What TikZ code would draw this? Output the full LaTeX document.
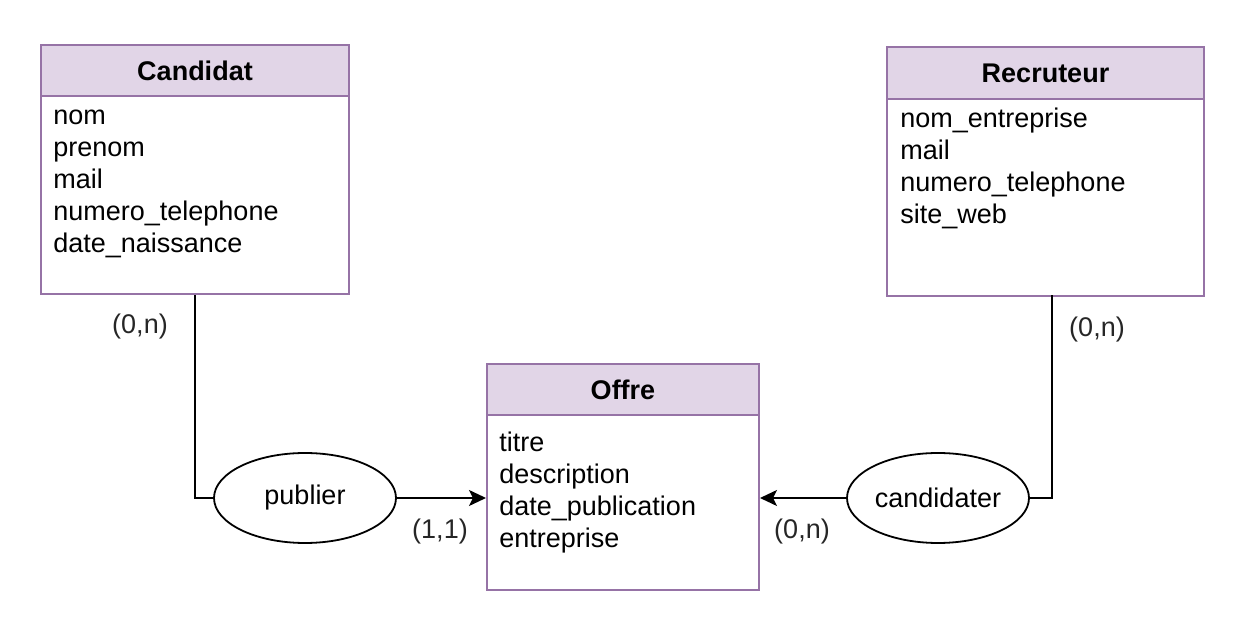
\documentclass[tikz,border=0pt]{standalone}
\usepackage{fontspec}
\setmainfont{Liberation Sans}
\usetikzlibrary{shapes.geometric,arrows.meta}
\definecolor{headfill}{HTML}{E1D5E7}
\definecolor{headdraw}{HTML}{9673A6}
\tikzset{
  entbody/.style={draw=headdraw, fill=white, line width=1pt, rectangle, inner sep=0pt, anchor=north west},
  enthead/.style={draw=headdraw, fill=headfill, line width=1pt, rectangle, inner sep=0pt, anchor=north west, font=\fontsize{13.5}{16}\selectfont\bfseries},
  attr/.style={inner sep=0pt, anchor=base west, font=\fontsize{13.5}{16}\selectfont},
  rel/.style={draw, ellipse, line width=0.9pt, minimum width=91pt, minimum height=45pt, inner sep=0pt, font=\fontsize{13.5}{16}\selectfont},
  card/.style={inner sep=0pt, font=\fontsize{13.5}{16}\selectfont, text=black!85},
  link/.style={line width=0.9pt},
  arr/.style={line width=0.9pt, -{Stealth[length=8.5pt,width=8pt,inset=2pt]}}
}
\begin{document}
\begin{tikzpicture}[x=0.5pt,y=-0.5pt]
\useasboundingbox (0,0) rectangle (1244,630);
% Candidat
\node[entbody, minimum width=154pt, minimum height=124.5pt] (cand) at (40,44) {};
\node[enthead, minimum width=154pt, minimum height=25.5pt] (candh) at (40,44) {Candidat};
\foreach \t [count=\i] in {nom,prenom,mail,numero\_telephone,date\_naissance}
  \node[attr] (ca\i) at (53,{125+32*(\i-1)}) {\t};
% Recruteur
\node[entbody, minimum width=158.5pt, minimum height=124.5pt] (rec) at (886,46) {};
\node[enthead, minimum width=158.5pt, minimum height=26pt] (rech) at (886,46) {Recruteur};
\foreach \t [count=\i] in {nom\_entreprise,mail,numero\_telephone,site\_web}
  \node[attr] (ra\i) at (900,{128+32*(\i-1)}) {\t};
% Offre
\node[entbody, minimum width=136pt, minimum height=113pt] (off) at (486,363) {};
\node[enthead, minimum width=136pt, minimum height=25.5pt] (offh) at (486,363) {Offre};
\foreach \t [count=\i] in {titre,description,date\_publication,entreprise}
  \node[attr] (oa\i) at (499,{452+32*(\i-1)}) {\t};
% relations
\node[rel] (pub) at (305,498) {publier};
\node[rel] (cdt) at (938,498) {candidater};
\coordinate (recs) at (1052,295);
\draw[link] (pub.west) -| (cand.south);
\draw[link] (cdt.east) -| (recs);
\draw[arr] (pub.east) -- (pub.east -| off.west);
\draw[arr] (cdt.west) -- (cdt.west -| off.east);
% cardinalities
\node[card] (c1) at (140,327) {(0,n)};
\node[card] (c2) at (440,532) {(1,1)};
\node[card] (c3) at (1097,330) {(0,n)};
\node[card] (c4) at (802,532) {(0,n)};
\end{tikzpicture}
\end{document}
